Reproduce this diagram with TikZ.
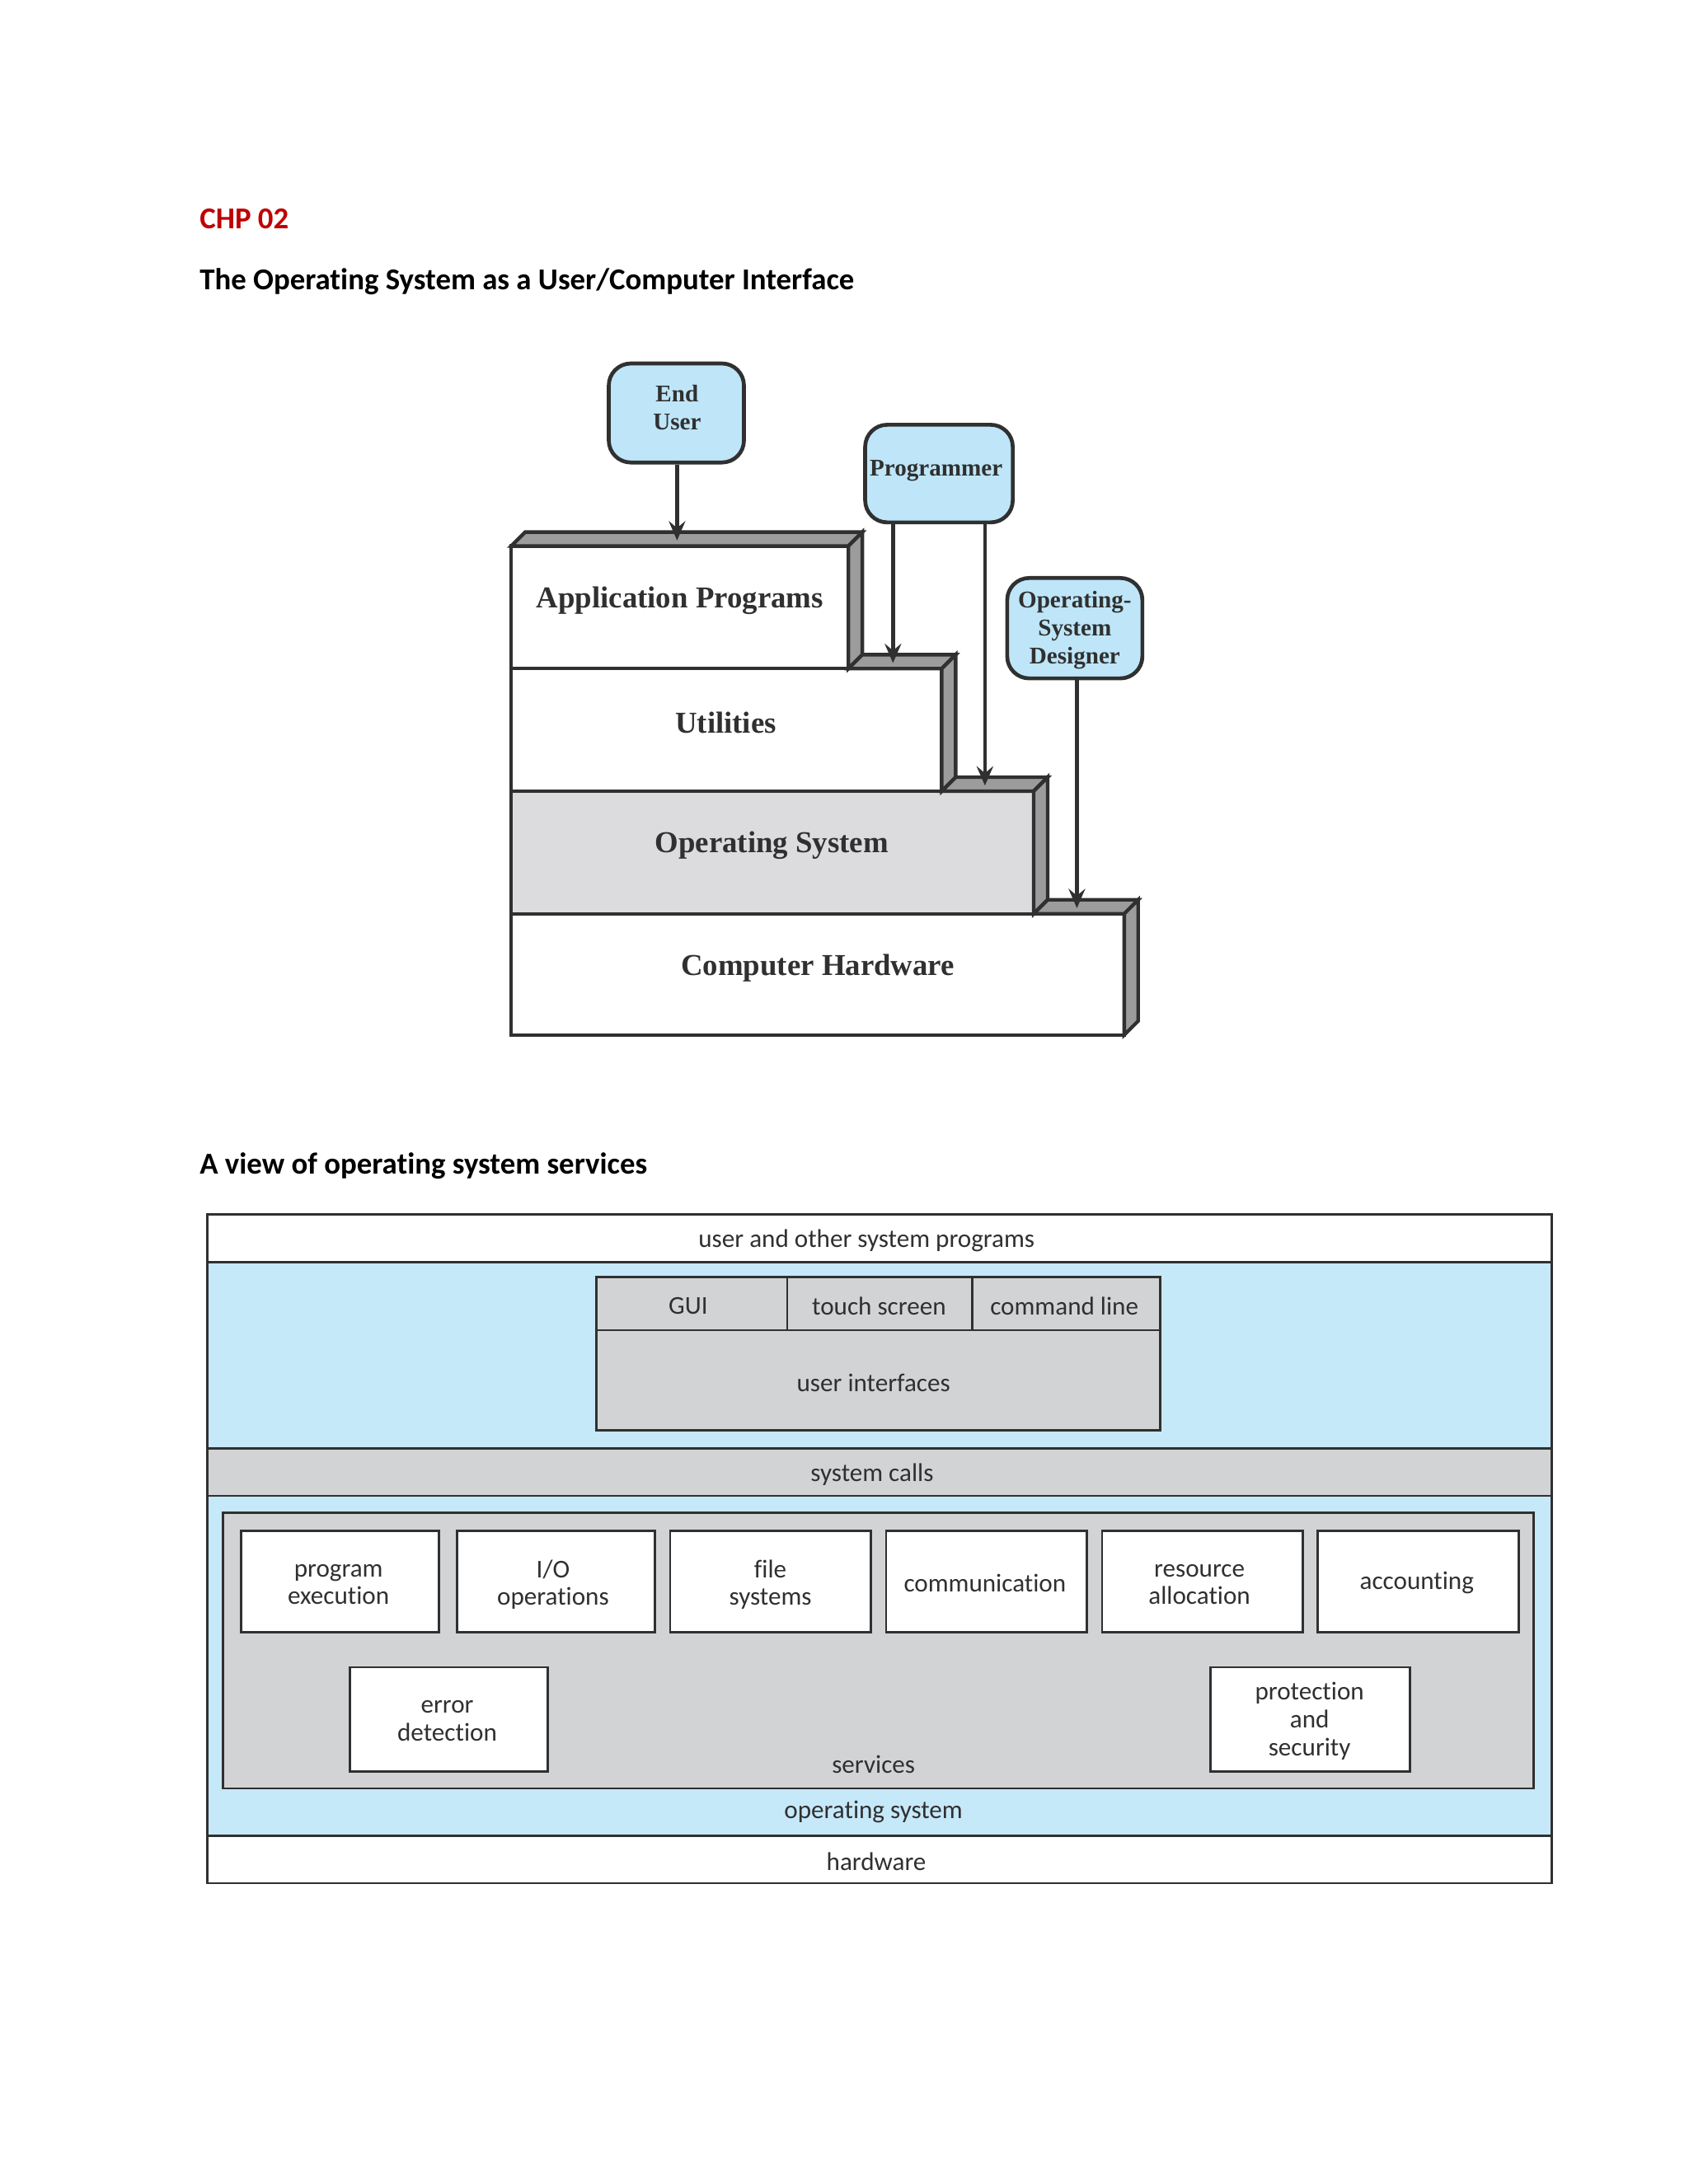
\documentclass[tikz,border=0pt]{standalone}
\usepackage{fontspec}
\setmainfont{Liberation Serif}
\newfontfamily\calfont[Ligatures=NoCommon]{Carlito}
\usetikzlibrary{arrows.meta,fit}
\definecolor{chpred}{HTML}{C00000}
\definecolor{ublue}{HTML}{BEE6F8}
\definecolor{sblue}{HTML}{C6E9FA}
\definecolor{sgray}{HTML}{D2D3D5}
\definecolor{osgray}{HTML}{DCDCDE}
\definecolor{facegray}{HTML}{9C9C9C}
\definecolor{ink}{HTML}{303030}
\tikzset{
  head/.style={font=\calfont\bfseries\fontsize{11}{13}\selectfont, inner sep=0pt, anchor=base west},
  layerbox/.style={draw=ink, line width=1.3pt, inner sep=0pt},
  sideface/.style={fill=facegray, draw=ink, line width=1.3pt, line join=miter},
  layertext/.style={font=\bfseries\fontsize{11}{13}\selectfont, text=ink, inner sep=0pt, yshift=-1pt},
  actor/.style={draw=ink, line width=1.4pt, fill=ublue, rounded corners=8pt, inner sep=0pt},
  actortext/.style={inner sep=0pt, align=center, text=ink, font=\bfseries\fontsize{8.7}{10.2}\selectfont},
  arr/.style={draw=ink, line width=1.4pt, -{Stealth[length=7pt,width=6pt,inset=2.5pt]}},
  sbox/.style={draw=ink, line width=0.8pt, inner sep=0pt},
  stext/.style={inner sep=0pt, align=center, text=ink, font=\calfont\fontsize{9.3}{10.1}\selectfont, yshift=-0.8pt}
}
\begin{document}
\begin{tikzpicture}[x=0.505pt,y=-0.505pt]
\useasboundingbox[fill=white] (0,0) rectangle (1212,1568);

% headings
\node[head, text=chpred] (chp) at (143,164) {CHP 02};
\node[head] (t1) at (143,208) {The Operating System as a User/Computer Interface};
\node[head] (t2) at (143,843) {A view of operating system services};

% ---------- diagram 1 ----------
\node[layerbox, fill=white, fit={(367,656)(807,743)}] (hw) {};
\node[layerbox, fill=osgray, fit={(367,568)(742,656)}] (os) {};
\node[layerbox, fill=white, fit={(367,480)(676,568)}] (util) {};
\node[layerbox, fill=white, fit={(367,392)(609,480)}] (app) {};

% top and side faces
\draw[sideface] (367,392)--(377,382)--(619,382)--(609,392)--cycle;
\draw[sideface] (609,392)--(619,382)--(619,470)--(609,480)--cycle;
\draw[sideface] (609,480)--(619,470)--(686,470)--(676,480)--cycle;
\draw[sideface] (676,480)--(686,470)--(686,558)--(676,568)--cycle;
\draw[sideface] (676,568)--(686,558)--(752,558)--(742,568)--cycle;
\draw[sideface] (742,568)--(752,558)--(752,646)--(742,656)--cycle;
\draw[sideface] (742,656)--(752,646)--(817,646)--(807,656)--cycle;
\draw[sideface] (807,656)--(817,646)--(817,733)--(807,743)--cycle;

\node[layertext] (appt) at (488,429) {Application Programs};
\node[layertext] (utilt) at (521,517) {Utilities};
\node[layertext] (ost) at (554,605) {Operating System};
\node[layertext] (hwt) at (587,693) {Computer Hardware};

% actors
\node[actor, minimum width=49pt, minimum height=35.9pt] (eu) at (485.5,296.5) {};
\node[actortext] (eut) at (486,292.5) {End\\User};
\node[actor, minimum width=53.5pt, minimum height=35.4pt] (prog) at (674,340) {};
\node[actortext] (progt) at (672,338) {Programmer};
\node[actor, minimum width=49pt, minimum height=36.4pt] (osd) at (771.5,451) {};
\node[actortext] (osdt) at (771.5,452.5) {Operating-\\System\\Designer};

\coordinate (tApp) at (486,388);
\coordinate (tUtil) at (641,476);
\coordinate (tOS) at (707,564);
\coordinate (tHW) at (773,652);
\draw[arr] (tApp |- eu.south) -- (tApp);
\draw[arr] (tUtil |- prog.south) -- (tUtil);
\draw[arr] (tOS |- prog.south) -- (tOS);
\draw[arr] (tHW |- osd.south) -- (tHW);

% ---------- diagram 2 ----------
\node[sbox, fill=sblue, fit={(149,906)(1114,1318)}] (osr) {};
\node[sbox, fill=white, fit={(149,872)(1114,906)}] (usr) {};
\node[sbox, fill=sgray, fit={(149,1040)(1114,1074)}] (sc) {};
\node[sbox, fill=white, fit={(149,1318)(1114,1352)}] (hwr) {};
\node[stext] (usrt) at (622,889) {user and other system programs};
\node[stext] (sct) at (626,1057) {system calls};
\node[stext] (hwrt) at (629,1335) {hardware};
\node[stext] (osl) at (627,1299) {operating system};

\node[sbox, fill=sgray, fit={(428,917)(833,1027)}] (ui) {};
\node[sbox, fit={(428,917)(565,955)}] (gui) {};
\node[sbox, fit={(565,917)(698,955)}] (ts) {};
\node[sbox, fit={(698,917)(833,955)}] (cl) {};
\node[stext] (guit) at (494,936) {GUI};
\node[stext] (tst) at (631,936) {touch screen};
\node[stext] (clt) at (764,936) {command line};
\node[stext] (uil) at (627,991) {user interfaces};

\node[sbox, fill=sgray, fit={(160,1086)(1101,1284)}] (svc) {};
\node[stext] (svcl) at (627,1265) {services};

\node[sbox, fill=white, fit={(173,1099)(315,1172)}] (pe) {};
\node[sbox, fill=white, fit={(328,1099)(470,1172)}] (io) {};
\node[sbox, fill=white, fit={(481,1099)(625,1172)}] (fs) {};
\node[sbox, fill=white, fit={(636,1099)(780,1172)}] (cm) {};
\node[sbox, fill=white, fit={(791,1099)(935,1172)}] (ra) {};
\node[sbox, fill=white, fit={(946,1099)(1090,1172)}] (ac) {};
\node[sbox, fill=white, fit={(251,1197)(393,1272)}] (ed) {};
\node[sbox, fill=white, fit={(869,1197)(1012,1272)}] (ps) {};
\node[stext] (pet) at (243,1136) {program\\execution};
\node[stext] (iot) at (397,1136) {I/O\\operations};
\node[stext] (fst) at (553,1136) {file\\systems};
\node[stext] (cmt) at (707,1135) {communication};
\node[stext] (rat) at (861,1136) {resource\\allocation};
\node[stext] (act) at (1017,1135) {accounting};
\node[stext] (edt) at (321,1234) {error\\detection};
\node[stext] (pst) at (940,1234) {protection\\and\\security};
\end{tikzpicture}
\end{document}
